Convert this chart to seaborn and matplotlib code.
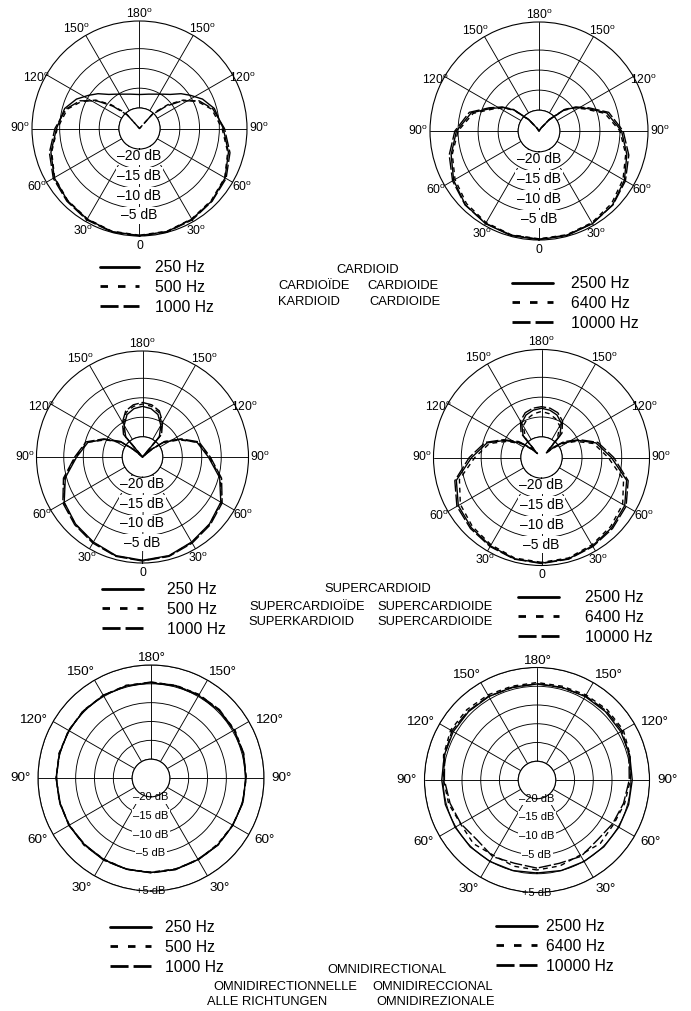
import numpy as np
import pandas as pd
import matplotlib.pyplot as plt
from matplotlib.lines import Line2D
import seaborn as sns

sns.set_theme(style='white')
plt.rcParams['font.family'] = ['Liberation Sans', 'DejaVu Sans']
plt.rcParams['mathtext.default'] = 'regular'
plt.rcParams['text.color'] = 'black'
plt.rcParams['xtick.color'] = 'black'
plt.rcParams['ytick.color'] = 'black'

# angles in degrees, 0 = front of the mic (bottom of each chart)
ANG_CARD = [0, 15, 30, 45, 60, 75, 90, 105, 115, 123, 130, 138, 145, 165, 180,
            195, 215, 222, 230, 237, 245, 255, 270, 285, 300, 315, 330, 345, 360]
ANG_SUPER = [0, 15, 30, 45, 60, 75, 90, 105, 115, 125, 130, 134, 140, 150, 160, 170, 180,
             190, 200, 210, 220, 226, 230, 235, 245, 255, 270, 285, 300, 315, 330, 345, 360]
ANG_OMNI = list(range(0, 361, 15))

LOW_FREQS = ['250 Hz', '500 Hz', '1000 Hz']
HIGH_FREQS = ['2500 Hz', '6400 Hz', '10000 Hz']

# levels in dB
card_250 = [1.9, 1.8, 1.3, 0.6, -0.3, -2.0, -4.2, -5.6, -7.6, -9.8, -11.5, -13.6, -14.6, -16.2, -16.6,
            -16.2, -14.6, -13.6, -11.5, -9.8, -7.6, -5.6, -4.0, -1.9, -0.2, 0.7, 1.3, 1.8, 1.9]
card_500 = [1.8, 1.7, 1.2, 0.5, -0.4, -2.2, -4.4, -6.3, -9.0, -12.0, -15.8, -20.0, -25.2, -25.2, -25.2,
            -25.2, -25.2, -20.0, -15.8, -12.0, -9.0, -6.3, -4.3, -2.1, -0.3, 0.5, 1.2, 1.7, 1.8]
card_1000 = [2.0, 1.9, 1.5, 0.8, 0.0, -1.6, -3.8, -6.0, -8.6, -12.4, -16.4, -20.6, -25.2, -25.2, -25.2,
             -25.2, -25.2, -20.6, -16.4, -12.4, -8.6, -6.0, -3.7, -1.5, 0.1, 0.8, 1.5, 1.9, 2.0]

card_2500 = [1.9, 1.8, 1.5, 0.8, -0.6, -2.5, -4.6, -7.7, -11.9, -14.4, -17.0, -21.5, -24.3, -25.2, -25.2,
             -25.2, -24.3, -21.5, -17.0, -14.4, -11.9, -7.7, -4.6, -2.5, -0.6, 0.8, 1.5, 1.8, 1.9]
card_6400 = [1.7, 1.6, 1.2, 0.4, -1.0, -2.8, -5.0, -8.2, -12.3, -14.6, -17.2, -21.5, -24.5, -25.2, -25.2,
             -25.2, -24.5, -21.5, -17.2, -14.6, -12.3, -8.2, -5.0, -2.8, -1.0, 0.4, 1.2, 1.6, 1.7]
card_10000 = [1.8, 1.7, 1.4, 0.9, -0.3, -2.0, -4.2, -7.2, -11.5, -14.2, -16.8, -21.2, -24.2, -25.2, -25.2,
              -25.2, -24.2, -21.2, -16.8, -14.2, -11.5, -7.2, -4.2, -2.0, -0.3, 0.9, 1.4, 1.7, 1.8]

super_250 = [1.3, 1.0, 0.0, -0.9, -2.0, -4.7, -8.3, -10.7, -14.5, -18.5, -22.0, -25.2, -18.5, -15.8, -13.6, -12.6, -12.2,
             -12.6, -13.6, -15.8, -18.5, -25.2, -22.0, -18.5, -14.5, -10.7, -8.3, -4.7, -2.0, -0.9, 0.0, 1.0, 1.3]
super_500 = [1.4, 1.1, 0.1, -0.8, -1.9, -4.5, -8.0, -10.5, -14.8, -18.8, -22.5, -25.2, -18.0, -15.3, -13.0, -12.0, -11.6,
             -12.0, -13.0, -15.3, -18.0, -25.2, -22.5, -18.8, -14.8, -10.5, -8.0, -4.5, -1.9, -0.8, 0.1, 1.1, 1.4]
super_1000 = [1.5, 1.2, 0.3, -0.6, -1.6, -4.2, -7.8, -10.2, -14.2, -18.2, -22.0, -25.2, -17.6, -14.9, -12.6, -11.6, -11.2,
              -11.6, -12.6, -14.9, -17.6, -25.2, -22.0, -18.2, -14.2, -10.2, -7.8, -4.2, -1.6, -0.6, 0.3, 1.2, 1.5]

super_2500 = [1.4, 1.2, 0.5, -0.2, -1.0, -3.0, -7.6, -11.0, -15.0, -18.8, -21.5, -23.5, -18.0, -15.2, -13.8, -13.1, -12.8,
              -13.1, -13.8, -15.2, -18.0, -23.5, -21.5, -18.8, -15.0, -11.0, -7.6, -3.0, -1.0, -0.2, 0.5, 1.2, 1.4]
super_6400 = [1.2, 1.0, 0.2, -0.6, -1.6, -3.8, -8.4, -11.6, -15.6, -19.2, -22.0, -23.8, -19.0, -16.0, -14.8, -14.0, -13.6,
              -14.0, -14.8, -16.0, -19.0, -23.8, -22.0, -19.2, -15.6, -11.6, -8.4, -3.8, -1.6, -0.6, 0.2, 1.0, 1.2]
super_10000 = [1.5, 1.3, 0.7, 0.1, -0.6, -2.6, -7.0, -10.5, -14.6, -18.2, -21.0, -23.0, -17.2, -14.6, -13.2, -12.6, -12.4,
               -12.6, -13.2, -14.6, -17.2, -23.0, -21.0, -18.2, -14.6, -10.5, -7.0, -2.6, -0.6, 0.1, 0.7, 1.3, 1.5]

omni_250 = [0.1, 0.1, 0.0, 0.0, 0.1, 0.1, 0.2, 0.2, 0.2, 0.3, 0.3, 0.3, 0.3,
            0.3, 0.3, 0.4, 0.4, 0.3, 0.2, 0.2, 0.1, 0.1, 0.0, 0.1, 0.1]
omni_500 = [0.0, 0.1, -0.1, 0.2, 0.0, 0.2, 0.1, 0.3, 0.2, 0.4, 0.3, 0.5, 0.4,
            0.5, 0.6, 0.5, 0.7, 0.4, 0.3, 0.2, 0.1, -0.1, 0.1, 0.0, 0.0]
omni_1000 = [0.2, 0.0, 0.2, -0.1, 0.2, 0.0, 0.2, 0.1, 0.3, 0.2, 0.4, 0.3, 0.5,
             0.4, 0.5, 0.7, 0.5, 0.5, 0.2, 0.3, 0.0, 0.2, -0.1, 0.2, 0.2]

omni_2500 = [-0.2, 0.0, 0.1, 0.2, 0.2, 0.3, 0.4, 0.6, 0.8, 0.8, 0.7, 0.6, 0.6,
             0.6, 0.7, 0.8, 0.8, 0.6, 0.4, 0.3, 0.2, 0.2, 0.1, 0.0, -0.2]
omni_6400 = [-1.0, -1.2, -1.8, -1.0, -1.5, -0.6, -0.1, 0.8, 1.6, 1.5, 1.2, 0.9, 1.0,
             0.9, 1.2, 1.5, 1.6, 0.7, -0.1, -0.8, -1.4, -1.1, -1.9, -1.3, -1.0]
omni_10000 = [-1.5, -2.0, -1.4, -2.4, -1.6, -1.0, -0.3, 0.5, 1.2, 1.0, 0.8, 0.5, 0.7,
              0.5, 0.9, 1.1, 1.2, 0.4, -0.4, -1.1, -1.7, -2.3, -1.5, -2.0, -1.5]

W, H = 691, 1011
fig = plt.figure(figsize=(W / 100, H / 100), dpi=100)
fig.patch.set_facecolor('white')

CURVE_DASHES = ['', (3.5, 3), (9, 2)]
LEGEND_STYLES = ['-', (0, (2.7, 3.6)), (0, (6.5, 1.8))]

# label offsets (points) for the left half; right half is mirrored
CARD_OFF = {0: (0, -7), 30: (-2, -6.5), 60: (-6.5, -3.6), 90: (-8.6, 0),
            120: (-7, -2.5), 150: (-6.5, 4.3), 180: (0, 5)}
OMNI_OFF = {30: (-9, -8.6), 60: (-11.5, -4), 90: (-12.7, 0),
            120: (-14.4, 1.1), 150: (-10.4, 5.8), 180: (0, 5)}


def polar_chart(cx, cy, rad, angles, curves, freqs, omni=False):
    ax = fig.add_axes([(cx - rad) / W, (H - cy - rad) / H, 2 * rad / W, 2 * rad / H],
                      projection='polar')
    df = pd.concat([pd.DataFrame({'theta': np.deg2rad(angles), 'level': vals, 'freq': f})
                    for f, vals in zip(freqs, curves)], ignore_index=True)
    sns.lineplot(data=df, x='theta', y='level', style='freq', style_order=freqs,
                 dashes=dict(zip(freqs, CURVE_DASHES)), color='black', lw=1.0,
                 sort=False, estimator=None, legend=False, clip_on=False, ax=ax)
    ax.set_xlabel('')
    ax.set_ylabel('')
    ax.set_theta_zero_location('S')
    ax.set_theta_direction(-1)

    if omni:
        ax.set_ylim(-20, 5)
        ax.set_rorigin(-25)
        rticks = [-20, -15, -10, -5, 0, 5]
        rlabels = ['\u201320 dB', '\u201315 dB', '\u201310 dB', '\u20135 dB', '', '+5 dB']
        spokes = list(range(30, 360, 30))
        offs, deg, afs, rfs, va = OMNI_OFF, '\u00b0', 9.7, 8, 'center'
    else:
        ax.set_ylim(-20, 2)
        ax.set_rorigin(-25.2)
        rticks = [-20, -15, -10, -5]
        rlabels = ['\u201320 dB', '\u201315 dB', '\u201310 dB', '\u20135 dB']
        spokes = list(range(0, 360, 30))
        offs, deg, afs, rfs, va = CARD_OFF, '$^{o}$', 8.7, 10, 'top'

    ax.set_xticks(np.deg2rad(spokes))
    ax.set_xticklabels([])
    ax.set_yticks(rticks)
    ax.set_yticklabels(rlabels, fontsize=rfs)
    ax.set_rlabel_position(0)
    for lab in ax.get_yticklabels():
        lab.set_horizontalalignment('center')
        lab.set_verticalalignment(va)
        lab.set_color('black')
        lab.set_bbox(dict(facecolor='white', edgecolor='none', pad=1.2))
    ax.tick_params(length=0)
    ax.grid(True, color='black', lw=0.65)
    for sp in ax.spines.values():
        sp.set_color('black')
        sp.set_linewidth(0.8)

    rmax = ax.get_ylim()[1]
    for a, (dx, dy) in offs.items():
        txt = '0' if a == 0 else f'{a}{deg}'
        sides = [(a, dx)] if a in (0, 180) else [(a, dx), (360 - a, -dx)]
        for ang, ddx in sides:
            ax.annotate(txt, xy=(np.deg2rad(ang), rmax), xytext=(ddx, dy),
                        textcoords='offset points', ha='center', va='center',
                        fontsize=afs, color='black', annotation_clip=False)
    return ax


def legend_block(freqs, x, y, hlen, textpad):
    handles = [Line2D([], [], color='black', lw=2.0, linestyle=ls) for ls in LEGEND_STYLES]
    fig.legend(handles, freqs, loc='upper left', bbox_to_anchor=(x / W, 1 - y / H),
               frameon=False, fontsize=11.3, handlelength=hlen, handletextpad=textpad,
               labelspacing=0.31, borderpad=0, borderaxespad=0, labelcolor='black')


def center_text(x, y, s, ha='left'):
    fig.text(x / W, 1 - y / H, s, ha=ha, va='center', fontsize=9.3, color='black')


polar_chart(139.5, 128.5, 107.5, ANG_CARD, [card_250, card_500, card_1000], LOW_FREQS)
polar_chart(539, 131, 109, ANG_CARD, [card_2500, card_6400, card_10000], HIGH_FREQS)
polar_chart(142.5, 457, 106, ANG_SUPER, [super_250, super_500, super_1000], LOW_FREQS)
polar_chart(541.5, 457.5, 108, ANG_SUPER, [super_2500, super_6400, super_10000], HIGH_FREQS)
polar_chart(151, 778, 113, ANG_OMNI, [omni_250, omni_500, omni_1000], LOW_FREQS, omni=True)
polar_chart(537, 780, 112.5, ANG_OMNI, [omni_2500, omni_6400, omni_10000], HIGH_FREQS, omni=True)

legend_block(LOW_FREQS, 100, 260, 2.5, 1.02)
legend_block(HIGH_FREQS, 512, 276, 2.6, 1.18)
legend_block(LOW_FREQS, 102, 582, 2.6, 1.57)
legend_block(HIGH_FREQS, 518, 590, 2.6, 1.7)
legend_block(LOW_FREQS, 110, 920, 2.6, 0.92)
legend_block(HIGH_FREQS, 496, 919, 2.6, 0.59)

center_text(368, 270, 'CARDIOID', ha='center')
center_text(278, 286, 'CARDIO\u00cfDE')
center_text(367, 286, 'CARDIOIDE')
center_text(278, 302, 'KARDIOID')
center_text(369, 302, 'CARDIOIDE')

center_text(378, 589, 'SUPERCARDIOID', ha='center')
center_text(249, 607, 'SUPERCARDIO\u00cfDE')
center_text(377, 607, 'SUPERCARDIOIDE')
center_text(248, 622, 'SUPERKARDIOID')
center_text(377, 622, 'SUPERCARDIOIDE')

center_text(327, 970, 'OMNIDIRECTIONAL')
center_text(213, 987, 'OMNIDIRECTIONNELLE')
center_text(372, 987, 'OMNIDIRECCIONAL')
center_text(207, 1002, 'ALLE RICHTUNGEN')
center_text(376, 1002, 'OMNIDIREZIONALE')

fig.savefig('out.png', dpi=100, facecolor='white')
